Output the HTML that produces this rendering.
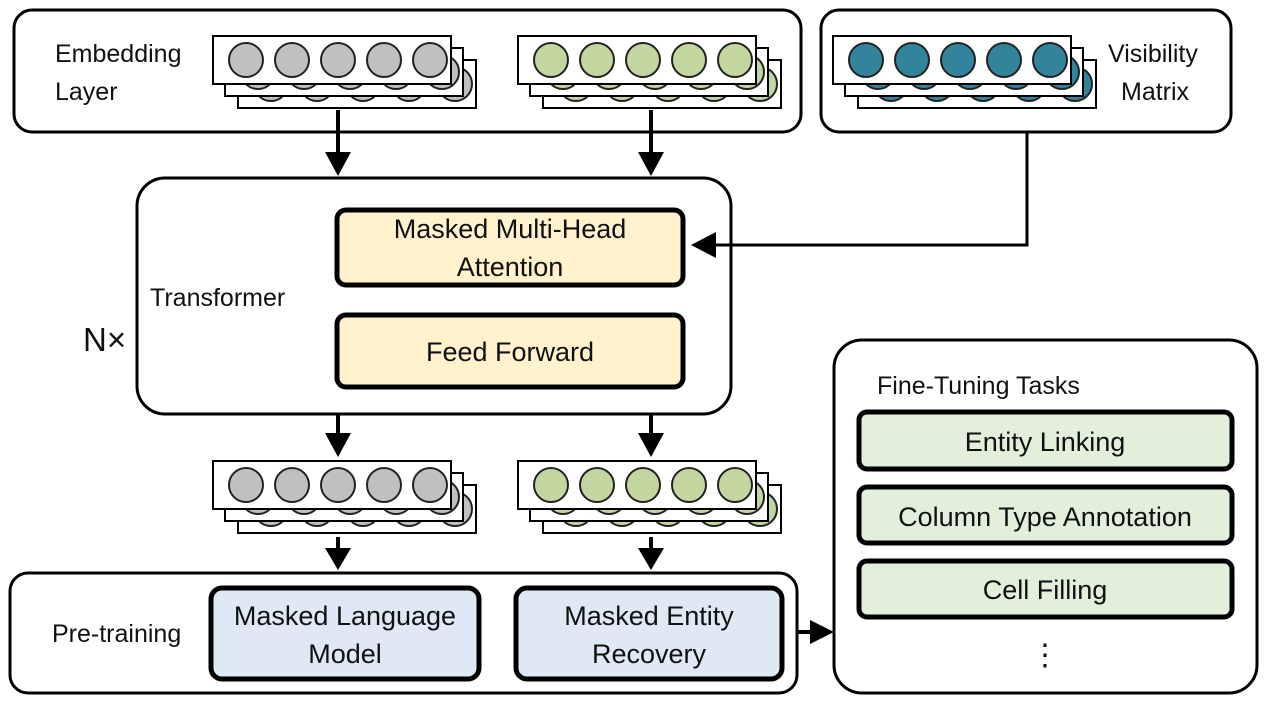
<!DOCTYPE html>
<html><head><meta charset="utf-8"><style>body{margin:0;background:#fff}svg{display:block}text{font-family:"Liberation Sans",sans-serif;font-size:27px;fill:#111}</style></head>
<body>
<svg width="1272" height="710" viewBox="0 0 1272 710" xmlns="http://www.w3.org/2000/svg">
<defs>
<g id="rowg"><rect width="238" height="48" fill="#fff" stroke="#000" stroke-width="2"/><g fill="#c0c0c0" stroke="#222" stroke-width="2"><circle cx="33" cy="24" r="17"/><circle cx="79" cy="24" r="17"/><circle cx="125" cy="24" r="17"/><circle cx="171" cy="24" r="17"/><circle cx="217" cy="24" r="17"/></g></g>
<g id="rowe"><rect width="238" height="48" fill="#fff" stroke="#000" stroke-width="2"/><g fill="#c4d6a0" stroke="#222" stroke-width="2"><circle cx="33" cy="24" r="17"/><circle cx="79" cy="24" r="17"/><circle cx="125" cy="24" r="17"/><circle cx="171" cy="24" r="17"/><circle cx="217" cy="24" r="17"/></g></g>
<g id="rowt"><rect width="238" height="48" fill="#fff" stroke="#000" stroke-width="2"/><g fill="#31849b" stroke="#222" stroke-width="2"><circle cx="33" cy="24" r="17"/><circle cx="79" cy="24" r="17"/><circle cx="125" cy="24" r="17"/><circle cx="171" cy="24" r="17"/><circle cx="217" cy="24" r="17"/></g></g>
<g id="sg"><use href="#rowg" x="25" y="24"/><use href="#rowg" x="12" y="12"/><use href="#rowg"/></g>
<g id="se"><use href="#rowe" x="25" y="24"/><use href="#rowe" x="12" y="12"/><use href="#rowe"/></g>
<g id="st"><use href="#rowt" x="25" y="24"/><use href="#rowt" x="12" y="12"/><use href="#rowt"/></g>
</defs>
<g fill="#fff" stroke="#000" stroke-width="3">
<rect x="14" y="10" width="787" height="122" rx="18"/>
<rect x="821" y="10" width="410" height="122" rx="18"/>
<rect x="137" y="178" width="594" height="236" rx="28"/>
<rect x="10" y="573" width="787" height="120" rx="18"/>
<rect x="834" y="340" width="423" height="353" rx="28"/>
</g>
<use href="#sg" x="213" y="36"/><use href="#se" x="518" y="36"/><use href="#st" x="833" y="36"/>
<use href="#sg" x="213" y="461"/><use href="#se" x="518" y="461"/>
<g stroke="#000" stroke-width="4" fill="none">
<line x1="338" y1="110" x2="338" y2="160"/><line x1="651" y1="110" x2="651" y2="160"/>
<line x1="338" y1="414" x2="338" y2="440"/><line x1="651" y1="414" x2="651" y2="440"/>
<line x1="338" y1="537" x2="338" y2="554"/><line x1="651" y1="537" x2="651" y2="554"/>
<polyline points="1027,132 1027,245 712,245" stroke-width="3"/>
<line x1="797" y1="632" x2="814" y2="632"/>
</g>
<g fill="#000">
<path d="M325,152 L351,152 L338,176z"/><path d="M638,152 L664,152 L651,176z"/>
<path d="M325,433 L351,433 L338,457z"/><path d="M638,433 L664,433 L651,457z"/>
<path d="M325,548 L351,548 L338,570z"/><path d="M638,548 L664,548 L651,570z"/>
<path d="M716,232 L716,258 L691,245z"/><path d="M810,620 L810,644 L834,632z"/>
</g>
<g stroke="#000" stroke-width="5">
<rect x="337" y="210" width="346" height="75" rx="9" fill="#fff2cc"/>
<rect x="337" y="315" width="346" height="72" rx="9" fill="#fff2cc"/>
<rect x="211" y="588" width="268" height="91" rx="11" fill="#dee9f5"/>
<rect x="516" y="588" width="266" height="91" rx="11" fill="#dee9f5"/>
<rect x="859" y="412" width="373" height="57" rx="8" fill="#e2efda"/>
<rect x="859" y="487" width="373" height="56" rx="8" fill="#e2efda"/>
<rect x="859" y="561" width="373" height="56" rx="8" fill="#e2efda"/>
</g>
<text x="55" y="62" style="font-size:25px">Embedding</text><text x="55" y="100" style="font-size:25px">Layer</text>
<text x="1108" y="62" style="font-size:25px">Visibility</text><text x="1121" y="100" style="font-size:25px">Matrix</text>
<g text-anchor="middle">
<text x="510" y="238">Masked Multi-Head</text><text x="510" y="276">Attention</text>
<text x="510" y="361">Feed Forward</text>
<text x="345" y="625">Masked Language</text><text x="345" y="663">Model</text>
<text x="649" y="625">Masked Entity</text><text x="649" y="663">Recovery</text>
<text x="1045" y="451">Entity Linking</text>
<text x="1045" y="526">Column Type Annotation</text>
<text x="1045" y="599">Cell Filling</text>
<text x="1045" y="665" style="font-size:30px">⋮</text>
</g>
<text x="150" y="306" style="font-size:25px">Transformer</text>
<text x="83" y="351" style="font-size:33px">N×</text>
<text x="52" y="642" style="font-size:25px">Pre-training</text>
<text x="877" y="394" style="font-size:25px">Fine-Tuning Tasks</text>
</svg>
</body></html>
